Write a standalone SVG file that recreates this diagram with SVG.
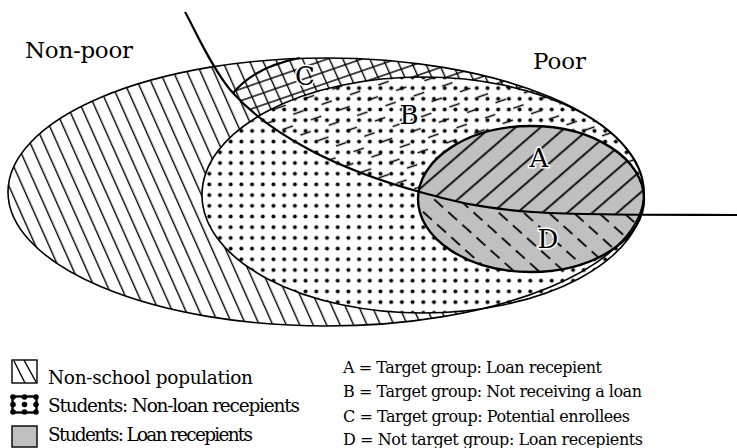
<svg xmlns="http://www.w3.org/2000/svg" width="737" height="448" viewBox="0 0 737 448">
<style>
.t{font-family:"DejaVu Serif","Liberation Serif",serif;fill:#000}
.lab{font-family:"DejaVu Serif","Liberation Serif",serif;font-size:26px;fill:#000;stroke:#fff;stroke-width:3;paint-order:stroke;stroke-linejoin:round;text-anchor:middle}
.outline{fill:none;stroke:#000}
</style>
<defs>
<pattern id="hatchSteep" patternUnits="userSpaceOnUse" width="20" height="12.3" patternTransform="rotate(66)">
<line x1="-1" y1="6" x2="21" y2="6" stroke="#000" stroke-width="1.4"/>
</pattern>
<pattern id="hatchC" patternUnits="userSpaceOnUse" width="20" height="11.2" patternTransform="rotate(-19)">
<line x1="-1" y1="5.6" x2="21" y2="5.6" stroke="#000" stroke-width="1.4"/>
</pattern>
<pattern id="dashB" patternUnits="userSpaceOnUse" width="30" height="22" patternTransform="rotate(-19)">
<line x1="0" y1="5.5" x2="11" y2="5.5" stroke="#000" stroke-width="1.5"/>
<line x1="15" y1="16.5" x2="26" y2="16.5" stroke="#000" stroke-width="1.5"/>
</pattern>
<pattern id="dots" patternUnits="userSpaceOnUse" x="214.65" y="146.95" width="10.7" height="10.7">
<circle cx="5.35" cy="5.35" r="2" fill="#000"/>
</pattern>
<pattern id="hatchA" patternUnits="userSpaceOnUse" width="20" height="16.4" patternTransform="rotate(-41)">
<line x1="-1" y1="8" x2="21" y2="8" stroke="#000" stroke-width="1.8"/>
</pattern>
<pattern id="dashD" patternUnits="userSpaceOnUse" width="19" height="16.7" patternTransform="rotate(42)">
<line x1="0" y1="8" x2="12" y2="8" stroke="#000" stroke-width="1.8"/>
</pattern>
<clipPath id="bigClip"><ellipse cx="326" cy="192" rx="318" ry="134"/></clipPath>
<clipPath id="cClip"><path d="M233,93 Q256,66 300,58 L310,0 L737,0 L737,150 L310,150 C278.8,133.5 253.8,116 233,93 Z"/></clipPath>
<clipPath id="studClip"><ellipse cx="423" cy="195" rx="221" ry="118"/></clipPath>
<clipPath id="aClip"><ellipse cx="531" cy="199" rx="113" ry="73"/></clipPath>
<clipPath id="poorSide"><path d="M185,12 C193,25.5 212.2,70 233,93 C253.8,116 278.8,133.5 310,150 C341.2,166.5 382.8,181.7 420,192 C457.2,202.3 480.5,208.2 533,212 C585.5,215.8 703,214.5 737,215 L737,0 L185,0 Z"/></clipPath>
<clipPath id="nonPoorSide"><path d="M185,12 C193,25.5 212.2,70 233,93 C253.8,116 278.8,133.5 310,150 C341.2,166.5 382.8,181.7 420,192 C457.2,202.3 480.5,208.2 533,212 C585.5,215.8 703,214.5 737,215 L737,448 L0,448 L0,0 L185,0 Z"/></clipPath>
</defs>
<rect width="737" height="448" fill="#fff"/>

<g id="population">
<ellipse cx="326" cy="192" rx="318" ry="134" fill="#fff"/>
<ellipse cx="326" cy="192" rx="318" ry="134" fill="url(#hatchSteep)"/>
</g>
<g id="region-C" clip-path="url(#bigClip)">
<rect width="737" height="448" fill="url(#hatchC)" clip-path="url(#cClip)"/>
</g>
<g id="students">
<ellipse cx="423" cy="195" rx="221" ry="118" fill="#fff"/>
<ellipse cx="423" cy="195" rx="221" ry="118" fill="url(#dots)"/>
</g>
<g id="region-B" clip-path="url(#studClip)">
<rect width="737" height="448" fill="url(#dashB)" clip-path="url(#poorSide)"/>
</g>
<g id="loan">
<ellipse cx="531" cy="199" rx="113" ry="73" fill="#c0c0c0"/>
</g>
<g id="region-A" clip-path="url(#aClip)">
<rect width="737" height="448" fill="url(#hatchA)" clip-path="url(#poorSide)"/>
</g>
<g id="region-D" clip-path="url(#aClip)">
<rect width="737" height="448" fill="url(#dashD)" clip-path="url(#nonPoorSide)"/>
</g>
<g id="outlines">
<ellipse class="outline" cx="326" cy="192" rx="318" ry="134" stroke-width="1.6"/>
<ellipse class="outline" cx="423" cy="195" rx="221" ry="118" stroke-width="1.6"/>
<ellipse class="outline" cx="531" cy="199" rx="113" ry="73" stroke-width="2.4"/>
</g>
<g id="connectors">
<path class="outline" stroke-width="2.2" d="M185,12 C193,25.5 212.2,70 233,93 C253.8,116 278.8,133.5 310,150 C341.2,166.5 382.8,181.7 420,192 C457.2,202.3 480.5,208.2 533,212 C585.5,215.8 703,214.5 737,215"/>
<path class="outline" stroke-width="2.2" d="M233,93 Q256,66 300,58"/>
</g>
<g id="labels">
<text class="lab" x="305" y="85">C</text>
<text class="lab" x="409" y="124">B</text>
<text class="lab" x="539" y="167">A</text>
<text class="lab" x="548" y="248">D</text>
<text class="t" x="25" y="58" font-size="23" textLength="108">Non-poor</text>
<text class="t" x="533" y="69" font-size="23" textLength="53">Poor</text>
</g>
<g id="legend">
<rect x="12" y="360" width="25" height="23" fill="#fff" stroke="#000" stroke-width="1.4"/>
<line x1="14" y1="361" x2="25" y2="383" stroke="#000" stroke-width="1.4"/>
<line x1="24" y1="360" x2="36" y2="382" stroke="#000" stroke-width="1.4"/>
<rect x="12.5" y="396.5" width="24" height="16" fill="#fff" stroke="#000" stroke-width="2.4"/>
<g fill="#000">
<circle cx="13" cy="397" r="2.8"/><circle cx="24.5" cy="397" r="2.8"/><circle cx="36" cy="397" r="2.8"/>
<circle cx="13" cy="404.5" r="2.8"/><circle cx="24.5" cy="404.5" r="2.8"/><circle cx="36" cy="404.5" r="2.8"/>
<circle cx="13" cy="412" r="2.8"/><circle cx="24.5" cy="412" r="2.8"/><circle cx="36" cy="412" r="2.8"/>
</g>
<rect x="12" y="426" width="25" height="21" fill="#c0c0c0" stroke="#000" stroke-width="1.4"/>
<text class="t" x="48" y="384" font-size="18.5" textLength="205">Non-school population</text>
<text class="t" x="48" y="412" font-size="18.5" textLength="252">Students: Non-loan recepients</text>
<text class="t" x="48" y="441" font-size="18.5" textLength="205">Students: Loan recepients</text>
<text class="t" x="343" y="373" font-size="16" textLength="259">A = Target group: Loan recepient</text>
<text class="t" x="343" y="397" font-size="16" textLength="299">B = Target group: Not receiving a loan</text>
<text class="t" x="343" y="421.5" font-size="16" textLength="287">C = Target group: Potential enrollees</text>
<text class="t" x="343" y="445" font-size="16" textLength="300">D = Not target group: Loan recepients</text>
</g>
</svg>
